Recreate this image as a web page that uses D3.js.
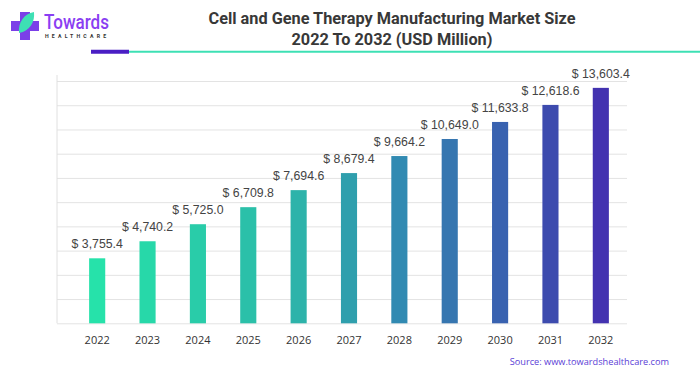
<!DOCTYPE html>
<html>
<head>
<meta charset="utf-8">
<script src="https://cdn.jsdelivr.net/npm/d3@7"></script>
<style>
  body { margin: 0; background: #fff; }
  svg { display: block; font-family: "Liberation Sans", Arial, sans-serif; }
</style>
</head>
<body>
<div id="chart"></div>
<script>
// chart data
const years = ["2022", "2023", "2024", "2025", "2026", "2027", "2028", "2029", "2030", "2031", "2032"];
const values = [3755.4, 4740.2, 5725.0, 6709.8, 7694.6, 8679.4, 9664.2, 10649.0, 11633.8, 12618.6, 13603.4];
const barColors = ["#26e2aa", "#27d8a9", "#29cca9", "#2bc0a9", "#2db3aa", "#2f9fad", "#318ab2", "#3676b0", "#3962b0", "#3d4bae", "#4332b0"];
const yMax = 14000;
const gridTicks = d3.range(0, 11).map(i => i * yMax / 10);

const width = 700, height = 375;
const margin = { top: 81, right: 73, bottom: 52, left: 57 };

const svg = d3.select("#chart")
  .append("svg")
  .attr("width", width)
  .attr("height", height)
  .attr("viewBox", [0, 0, width, height]);

// header: logo
const logo = svg.append("g");
logo.append("rect").attr("x", 20).attr("y", 12).attr("width", 10).attr("height", 28).attr("fill", "#7b3fe8");
logo.append("rect").attr("x", 11).attr("y", 21).attr("width", 28).attr("height", 10).attr("fill", "#7b3fe8");
logo.append("path")
  .attr("d", "M19,33 C18,22 24,14 34,12 C35,22 30,31 19,33 Z")
  .attr("fill", "#3ee0b4");
logo.append("text")
  .attr("x", 44).attr("y", 29)
  .attr("font-family", "Roboto, sans-serif")
  .attr("font-size", 20).attr("font-weight", 500)
  .attr("textLength", 65).attr("lengthAdjust", "spacingAndGlyphs")
  .attr("fill", "#8a3ef2")
  .text("Towards");
logo.append("text")
  .attr("x", 45).attr("y", 37.5)
  .attr("font-family", "Roboto, sans-serif")
  .attr("font-size", 5.2).attr("font-weight", 700)
  .attr("letter-spacing", 3.2)
  .attr("fill", "#333")
  .text("HEALTHCARE");

// title
const title = svg.append("text")
  .attr("text-anchor", "middle")
  .attr("font-family", "Roboto, sans-serif")
  .attr("font-size", 16.3).attr("font-weight", 700)
  .attr("fill", "#383838");
title.append("tspan").attr("x", 392).attr("y", 24).text("Cell and Gene Therapy Manufacturing Market Size");
title.append("tspan").attr("x", 392).attr("y", 45).text("2022 To 2032 (USD Million)");

// header rule
svg.append("line").attr("x1", 129).attr("x2", 700).attr("y1", 51.7).attr("y2", 51.7)
  .attr("stroke", "#3ee0b4").attr("stroke-width", 2);
svg.append("line").attr("x1", 91).attr("x2", 129).attr("y1", 51.7).attr("y2", 51.7)
  .attr("stroke", "#4a1ec4").attr("stroke-width", 4);

// scales
const x = d3.scaleBand()
  .domain(years)
  .range([72, 626])
  .paddingInner(0.68)
  .paddingOuter(0.34);

const y = d3.scaleLinear()
  .domain([0, yMax])
  .range([height - margin.bottom + 0.3, margin.top]);

// grid lines
svg.append("g")
  .attr("class", "grid")
  .attr("transform", `translate(${margin.left},0)`)
  .call(d3.axisLeft(y).tickValues(gridTicks).tickSize(-(width - margin.right - margin.left)).tickFormat(""))
  .call(g => g.select(".domain").remove())
  .call(g => g.selectAll(".tick line").attr("stroke", "#e3e3e3").attr("stroke-width", 1));

// left axis line
svg.append("line")
  .attr("x1", margin.left).attr("x2", margin.left)
  .attr("y1", 75).attr("y2", y(0))
  .attr("stroke", "#e0e0e0");

// bars
svg.append("g")
  .selectAll("rect")
  .data(values)
  .join("rect")
  .attr("x", (d, i) => x(years[i]))
  .attr("y", d => y(d))
  .attr("width", x.bandwidth())
  .attr("height", d => y(0) - y(d))
  .attr("fill", (d, i) => barColors[i]);

// value labels
svg.append("g")
  .selectAll("text")
  .data(values)
  .join("text")
  .attr("x", (d, i) => x(years[i]) + x.bandwidth() / 2)
  .attr("y", d => y(d) - 10)
  .attr("text-anchor", "middle")
  .attr("font-size", 12.3)
  .attr("fill", "#444")
  .text(d => "$ " + d3.format(",.1f")(d));

// x axis
svg.append("g")
  .attr("transform", `translate(0,${y(0)})`)
  .call(d3.axisBottom(x).tickSize(0).tickPadding(13))
  .call(g => g.select(".domain").remove())
  .call(g => g.selectAll("text")
    .attr("font-family", "'Open Sans', sans-serif")
    .attr("font-size", 11)
    .attr("fill", "#333"));

// source
svg.append("text")
  .attr("x", 669).attr("y", 365)
  .attr("text-anchor", "end")
  .attr("font-family", "'Open Sans', sans-serif")
  .attr("font-size", 9.2)
  .attr("fill", "#5a3ed6")
  .text("Source: www.towardshealthcare.com");
</script>
</body>
</html>
